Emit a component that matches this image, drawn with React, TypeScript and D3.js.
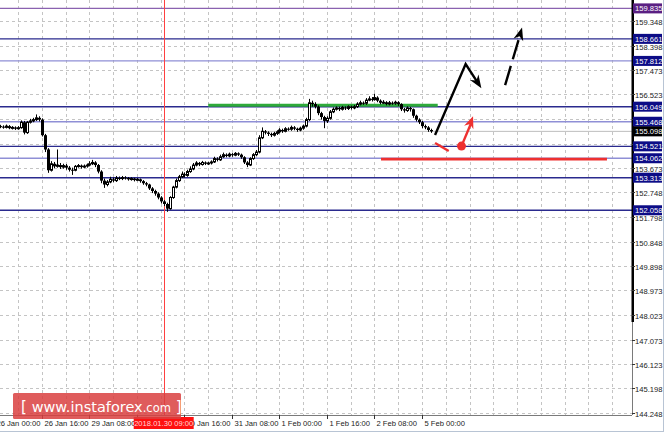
import React, { useEffect, useRef } from 'react';
import * as d3 from 'd3';

// H1 bars, 26 Jan 02:00 .. 5 Feb 03:00 (open of first bar, then closes/highs/lows)
const firstOpen = 155.30;
const closes = [
  155.28, 155.25, 155.30, 155.22, 155.25, 155.20, 155.24, 155.45, 155.05, 155.45,
  155.50, 155.55, 155.62, 155.55, 154.95, 154.40, 153.60, 153.85, 153.75, 153.80,
  153.72, 153.78, 153.70, 153.62, 153.60, 153.75, 153.78, 153.72, 153.76, 153.80,
  153.85, 153.90, 153.80, 153.55, 153.20, 153.05, 153.15, 153.25, 153.20, 153.30,
  153.28, 153.32, 153.30, 153.25, 153.28, 153.22, 153.25, 153.18, 153.10, 153.05,
  152.90, 152.80, 152.70, 152.55, 152.40, 152.30, 152.12, 152.55, 152.95, 153.20,
  153.35, 153.45, 153.40, 153.55, 153.65, 153.80, 153.88, 153.82, 153.90, 153.85,
  153.88, 153.92, 154.05, 154.00, 154.12, 154.20, 154.15, 154.22, 154.18, 154.25,
  154.20, 154.10, 153.90, 153.80, 154.05, 154.20, 154.30, 154.85, 155.10, 155.05,
  155.00, 154.95, 155.02, 155.08, 155.15, 155.10, 155.20, 155.18, 155.25, 155.20,
  155.15, 155.22, 155.30, 155.55, 156.20, 156.15, 156.05, 155.80, 155.65, 155.50,
  155.60, 155.85, 155.95, 156.00, 155.95, 156.02, 155.98, 156.05, 156.00, 156.05,
  156.15, 156.20, 156.18, 156.30, 156.35, 156.32, 156.40, 156.28, 156.20, 156.22,
  156.15, 156.20, 156.18, 156.22, 156.15, 155.95, 155.90, 156.00, 155.95, 155.70,
  155.55, 155.45, 155.30, 155.25, 155.15, 155.098,
];
const highs = [
  155.35, 155.33, 155.36, 155.34, 155.30, 155.29, 155.30, 155.52, 155.50, 155.50,
  155.58, 155.62, 155.75, 155.68, 155.60, 155.00, 154.45, 153.95, 153.92, 154.40,
  153.88, 153.85, 153.84, 153.76, 153.70, 153.80, 153.84, 153.82, 153.82, 153.86,
  153.95, 154.00, 153.95, 153.84, 153.60, 153.28, 153.22, 153.35, 153.32, 153.38,
  153.36, 153.38, 153.37, 153.34, 153.33, 153.31, 153.30, 153.28, 153.22, 153.15,
  153.08, 152.95, 152.85, 152.75, 152.60, 152.45, 152.35, 152.60, 153.00, 153.28,
  153.42, 153.55, 153.52, 153.62, 153.75, 153.88, 153.95, 153.92, 153.96, 153.94,
  153.93, 153.98, 154.12, 154.10, 154.20, 154.28, 154.25, 154.28, 154.26, 154.30,
  154.29, 154.24, 154.14, 153.95, 154.10, 154.26, 154.38, 154.95, 155.25, 155.15,
  155.10, 155.05, 155.08, 155.14, 155.22, 155.20, 155.26, 155.25, 155.32, 155.30,
  155.24, 155.28, 155.36, 155.62, 156.35, 156.28, 156.22, 156.10, 155.85, 155.70,
  155.68, 155.92, 156.02, 156.06, 156.05, 156.08, 156.06, 156.10, 156.09, 156.12,
  156.22, 156.28, 156.25, 156.38, 156.45, 156.42, 156.55, 156.45, 156.33, 156.30,
  156.26, 156.27, 156.25, 156.28, 156.26, 156.18, 156.00, 156.06, 156.04, 155.98,
  155.74, 155.60, 155.50, 155.36, 155.30, 155.20,
];
const lows = [
  155.22, 155.20, 155.21, 155.18, 155.17, 155.15, 155.16, 155.20, 154.98, 155.00,
  155.40, 155.45, 155.50, 155.48, 154.90, 154.30, 153.50, 153.55, 153.68, 153.70,
  153.65, 153.66, 153.62, 153.55, 153.42, 153.56, 153.70, 153.66, 153.68, 153.70,
  153.75, 153.80, 153.72, 153.48, 153.10, 152.92, 152.98, 153.10, 153.14, 153.15,
  153.22, 153.22, 153.24, 153.20, 153.20, 153.17, 153.18, 153.12, 153.04, 152.98,
  152.84, 152.72, 152.62, 152.48, 152.32, 152.22, 152.00, 152.08, 152.50, 152.90,
  153.15, 153.30, 153.32, 153.35, 153.50, 153.60, 153.75, 153.76, 153.78, 153.80,
  153.80, 153.82, 153.88, 153.94, 153.96, 154.08, 154.10, 154.10, 154.12, 154.14,
  154.15, 154.04, 153.84, 153.72, 153.76, 154.00, 154.15, 154.25, 154.80, 154.98,
  154.92, 154.88, 154.90, 154.96, 155.02, 155.04, 155.06, 155.12, 155.12, 155.14,
  155.08, 155.10, 155.16, 155.25, 155.50, 156.05, 155.98, 155.72, 155.55, 155.22,
  155.42, 155.55, 155.80, 155.90, 155.88, 155.90, 155.92, 155.92, 155.94, 155.95,
  156.00, 156.10, 156.12, 156.12, 156.26, 156.25, 156.28, 156.22, 156.14, 156.15,
  156.10, 156.10, 156.12, 156.12, 156.08, 155.88, 155.82, 155.85, 155.86, 155.62,
  155.48, 155.38, 155.22, 155.18, 155.08, 155.04,
];

const currentPrice = 155.098;

// right-hand price scale
const priceTicks = [
  144.248, 145.198, 146.123, 147.073, 148.023, 148.973, 149.898, 150.848, 151.798,
  152.748, 153.673, 154.623, 155.573, 156.523, 157.473, 158.398, 159.348,
];

// horizontal levels
const levelPrices = [159.835, 158.661, 157.812, 156.049, 155.468, 154.521, 154.062, 153.313, 152.058];
const levelKinds = ['top', 'dark', 'light', 'dark', 'light', 'dark', 'light', 'dark', 'dark'];

// time axis (bar index -> label)
const dateBars = [-2, 14, 30, 46, 62, 78, 94, 110, 126, 142];
const dateLabels = [
  '26 Jan 00:00', '26 Jan 16:00', '29 Jan 08:00', '30 Jan 00:00', '30 Jan 16:00',
  '31 Jan 08:00', '1 Feb 00:00', '1 Feb 16:00', '2 Feb 08:00', '5 Feb 00:00',
];
const crossBar = 55;
const crossLabel = '2018.01.30 09:00';

// drawn annotations, in [bar, price]
const greenLine: [number, number][] = [[70, 156.10], [147.3, 156.10]];
const redLine: [number, number][] = [[128.2, 154.03], [204.3, 154.03]];
const blackPath: [number, number][] = [[146.4, 154.96], [156.7, 157.69], [162.0, 156.76]];
const blackDashed: [number, number][] = [[170.0, 156.88], [175.7, 159.10]];
const redDash: [number, number][] = [[146.4, 154.65], [151.0, 154.34]];
const redArrow: [number, number][] = [[155.3, 154.53], [159.2, 155.68]];

const W = 664;
const H = 432;
const axisX = 632;
const axisY = 415;

function headPoints(x1: number, y1: number, x2: number, y2: number, len: number, half: number) {
  const a = Math.atan2(y2 - y1, x2 - x1);
  const cx = Math.cos(a), sx = Math.sin(a);
  const bx = x2 - len * cx, by = y2 - len * sx;
  const nx = x2 - len * 0.7 * cx, ny = y2 - len * 0.7 * sx;
  return [
    [x2, y2],
    [bx - half * sx, by + half * cx],
    [nx, ny],
    [bx + half * sx, by - half * cx],
  ].map(p => p.join(',')).join(' ');
}

const App: React.FC = () => {
  const svgRef = useRef<SVGSVGElement>(null);

  useEffect(() => {
    if (!svgRef.current) return;
    const svg = d3.select(svgRef.current);
    svg.selectAll('*').remove();

    const x = d3.scaleLinear().domain([0, 146]).range([0.4, 0.4 + 146 * 2.969]);
    const y = d3.scaleLinear().domain([144.248, 159.835]).range([413, 8.4]);
    const font = 'Liberation Sans, Arial, sans-serif';

    svg.append('rect').attr('width', W).attr('height', H).attr('fill', '#fff');

    const plot = svg.append('g');

    // grid
    const gridBars = d3.range(6, 210, 8);
    plot.selectAll('line.vg').data(gridBars).enter().append('line')
      .attr('x1', d => Math.round(x(d)) + 0.5).attr('x2', d => Math.round(x(d)) + 0.5)
      .attr('y1', 0).attr('y2', axisY)
      .attr('stroke', '#c4c4c4').attr('stroke-dasharray', '3,3');
    plot.selectAll('line.hg').data(priceTicks).enter().append('line')
      .attr('x1', 0).attr('x2', axisX)
      .attr('y1', d => Math.round(y(d)) + 0.5).attr('y2', d => Math.round(y(d)) + 0.5)
      .attr('stroke', '#c4c4c4').attr('stroke-dasharray', '3,3');

    // current price line
    plot.append('line')
      .attr('x1', 0).attr('x2', axisX)
      .attr('y1', y(currentPrice)).attr('y2', y(currentPrice))
      .attr('stroke', '#bdbdbd').attr('stroke-width', 1);

    // level lines
    const levelColor = (k: string) => k === 'top' ? '#8a62b0' : k === 'dark' ? '#2a2a8e' : '#8f8fd6';
    plot.selectAll('line.lvl').data(levelPrices).enter().append('line')
      .attr('x1', 0).attr('x2', axisX)
      .attr('y1', d => y(d)).attr('y2', d => y(d))
      .attr('stroke', (d, i) => levelColor(levelKinds[i]))
      .attr('stroke-width', 1.4);

    // crosshair
    plot.append('line')
      .attr('x1', Math.round(x(crossBar)) + 0.5).attr('x2', Math.round(x(crossBar)) + 0.5)
      .attr('y1', 0).attr('y2', axisY)
      .attr('stroke', '#ff4040').attr('stroke-width', 1);

    // green + red horizontal marks
    const line = d3.line<[number, number]>().x(d => x(d[0])).y(d => y(d[1]));
    plot.append('path').attr('d', line(greenLine)).attr('stroke', '#2eaa3a').attr('stroke-width', 3).attr('fill', 'none');
    plot.append('path').attr('d', line(redLine)).attr('stroke', '#ee3030').attr('stroke-width', 2.6).attr('fill', 'none');

    // candles
    const opens = closes.map((c, i) => (i === 0 ? firstOpen : closes[i - 1]));
    const candles = plot.append('g');
    closes.forEach((c, i) => {
      const o = opens[i];
      const cx = Math.round(x(i)) + 0.5;
      candles.append('line')
        .attr('x1', cx).attr('x2', cx)
        .attr('y1', y(highs[i])).attr('y2', y(lows[i]))
        .attr('stroke', '#000').attr('stroke-width', 1);
      const top = y(Math.max(o, c));
      const h = Math.max(1, y(Math.min(o, c)) - top);
      if (c >= o) {
        candles.append('rect')
          .attr('x', cx - 1).attr('y', top).attr('width', 2).attr('height', h)
          .attr('fill', '#fff').attr('stroke', '#000').attr('stroke-width', 1);
      } else {
        candles.append('rect')
          .attr('x', cx - 1.5).attr('y', top).attr('width', 3).attr('height', h)
          .attr('fill', '#000');
      }
    });

    // annotations
    const px = (p: [number, number]) => [x(p[0]), y(p[1])] as [number, number];
    const bp = blackPath.map(px);
    plot.append('path').attr('d', d3.line()(bp.slice(0, 2).concat([[bp[2][0] - 4, bp[2][1] - 6]])))
      .attr('stroke', '#000').attr('stroke-width', 2.4).attr('fill', 'none');
    plot.append('polygon').attr('points', headPoints(bp[1][0], bp[1][1], bp[2][0], bp[2][1], 13, 5)).attr('fill', '#000');

    const bd = blackDashed.map(px);
    plot.append('line')
      .attr('x1', bd[0][0]).attr('y1', bd[0][1])
      .attr('x2', bd[1][0] - 2.5).attr('y2', bd[1][1] + 9)
      .attr('stroke', '#000').attr('stroke-width', 2.4).attr('stroke-dasharray', '20,7');
    plot.append('polygon').attr('points', headPoints(bd[0][0], bd[0][1], bd[1][0], bd[1][1], 13, 5)).attr('fill', '#000');

    const rd = redDash.map(px);
    plot.append('line')
      .attr('x1', rd[0][0]).attr('y1', rd[0][1]).attr('x2', rd[1][0]).attr('y2', rd[1][1])
      .attr('stroke', '#ee3030').attr('stroke-width', 2.4);
    const ra = redArrow.map(px);
    plot.append('line')
      .attr('x1', ra[0][0]).attr('y1', ra[0][1]).attr('x2', ra[1][0] - 2).attr('y2', ra[1][1] + 7)
      .attr('stroke', '#ee3030').attr('stroke-width', 2.4);
    plot.append('polygon').attr('points', headPoints(ra[0][0], ra[0][1], ra[1][0], ra[1][1], 12, 5)).attr('fill', '#ee3030');
    plot.append('circle').attr('cx', ra[0][0]).attr('cy', ra[0][1]).attr('r', 4.5).attr('fill', '#ee3030');

    // right axis
    svg.append('rect').attr('x', axisX).attr('y', 0).attr('width', W - axisX).attr('height', H).attr('fill', '#fff');
    svg.append('line').attr('x1', axisX + 0.5).attr('x2', axisX + 0.5).attr('y1', 0).attr('y2', axisY)
      .attr('stroke', '#7a7a7a');
    svg.append('rect').attr('x', axisX - 0.5).attr('y', 0).attr('width', 2.5).attr('height', 322).attr('fill', '#000');

    const ticks = svg.append('g');
    priceTicks.forEach(p => {
      const ty = Math.round(y(p)) + 0.5;
      ticks.append('line').attr('x1', axisX).attr('x2', axisX + 3).attr('y1', ty).attr('y2', ty).attr('stroke', '#333');
      ticks.append('text').attr('x', 635).attr('y', ty + 3)
        .attr('font-family', font).attr('font-size', 7.6).attr('fill', '#222')
        .text(p.toFixed(3));
    });

    const boxes = svg.append('g');
    const boxFor = (p: number, fill: string) => {
      const by = y(p);
      boxes.append('rect').attr('x', 633).attr('y', by - 5).attr('width', 29).attr('height', 10).attr('fill', fill);
      boxes.append('text').attr('x', 635).attr('y', by + 3)
        .attr('font-family', font).attr('font-size', 7.6).attr('fill', '#fff')
        .text(p.toFixed(3));
    };
    levelPrices.forEach((p, i) => boxFor(p, levelKinds[i] === 'top' ? '#5a1f82' : '#0c0c86'));
    boxFor(currentPrice, '#000');

    // bottom axis
    svg.append('line').attr('x1', 0).attr('x2', axisX).attr('y1', axisY + 0.5).attr('y2', axisY + 0.5).attr('stroke', '#7a7a7a');
    const dates = svg.append('g');
    dateBars.forEach((b, i) => {
      const tx = Math.round(x(b)) + 0.5;
      dates.append('line').attr('x1', tx).attr('x2', tx).attr('y1', axisY).attr('y2', axisY + 4).attr('stroke', '#333');
      dates.append('text').attr('x', tx + 2).attr('y', 426)
        .attr('font-family', font).attr('font-size', 7.6).attr('fill', '#222')
        .text(dateLabels[i]);
    });
    const cx0 = x(crossBar);
    dates.append('rect').attr('x', cx0 - 30).attr('y', 417).attr('width', 60).attr('height', 12).attr('fill', '#ff1010');
    dates.append('text').attr('x', cx0).attr('y', 426).attr('text-anchor', 'middle')
      .attr('font-family', font).attr('font-size', 7.6).attr('fill', '#ffd6d6')
      .text(crossLabel);

    // frame
    svg.append('line').attr('x1', 0).attr('x2', W).attr('y1', H - 0.5).attr('y2', H - 0.5).attr('stroke', '#b8c4d4');
    svg.append('line').attr('x1', W - 0.5).attr('x2', W - 0.5).attr('y1', 0).attr('y2', H).attr('stroke', '#b8c4d4');

    // logo
    const logo = svg.append('g');
    logo.append('rect').attr('x', 13).attr('y', 393).attr('width', 168).attr('height', 26).attr('rx', 1.5)
      .attr('fill', '#d93f3f').attr('opacity', 0.85);
    const t = logo.append('text').attr('x', 21).attr('y', 412)
      .attr('font-family', 'DejaVu Sans, Verdana, sans-serif').attr('fill', '#fff');
    t.append('tspan').attr('font-size', 15).text('[ ');
    t.append('tspan').attr('font-size', 14.5).text('www.instaforex');
    t.append('tspan').attr('font-size', 11.5).text('.com');
    t.append('tspan').attr('font-size', 15).text(' ]');
  }, []);

  return (
    <svg
      ref={svgRef}
      width={W}
      height={H}
      style={{ position: 'absolute', left: 0, top: 0, display: 'block' }}
    />
  );
};

export default App;
